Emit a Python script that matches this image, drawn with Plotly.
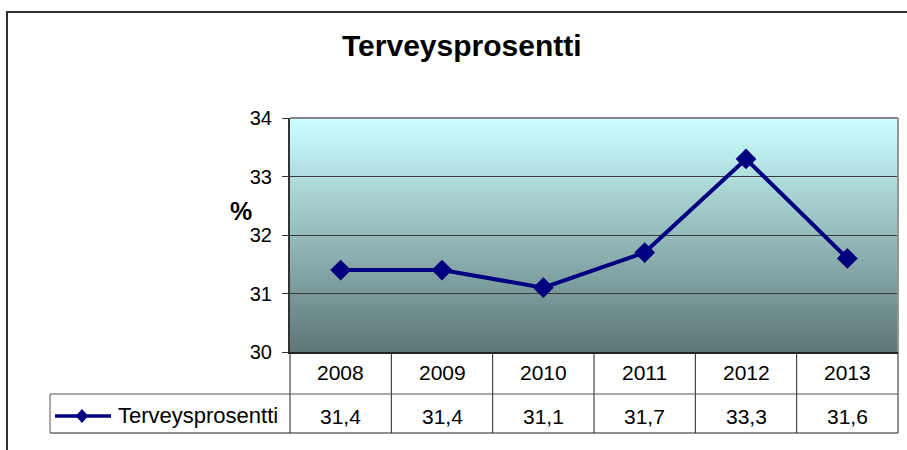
import plotly.graph_objects as go

# ---- data ----
years = ["2008", "2009", "2010", "2011", "2012", "2013"]
values = [31.4, 31.4, 31.1, 31.7, 33.3, 31.6]
value_labels = ["31,4", "31,4", "31,1", "31,7", "33,3", "31,6"]
y_ticks = [30, 31, 32, 33, 34]
series_name = "Terveysprosentti"
chart_title = "Terveysprosentti"

W, H = 907, 450
L, R, T, B = 290, 898, 118, 352  # plot area in pixels


def px(x):
    return (x - L) / (R - L)


def py(y):
    return (B - y) / (B - T)


FONT = "Liberation Sans, Arial, sans-serif"
NAVY = "#000080"

fig = go.Figure()
fig.add_trace(go.Scatter(
    x=years, y=values, mode="lines+markers", name=series_name,
    line=dict(color=NAVY, width=4),
    marker=dict(symbol="diamond", size=16, color=NAVY),
    showlegend=False, cliponaxis=False,
))

shapes = []
# gradient background of plot area
N = 117
top = (204, 255, 255)
bot = (94, 119, 119)
for i in range(N):
    t = i / (N - 1)
    c = tuple(round(bot[k] + (top[k] - bot[k]) * t) for k in range(3))
    shapes.append(dict(type="rect", xref="paper", yref="paper",
                       x0=0, x1=1, y0=i / N, y1=(i + 1) / N + 0.002,
                       fillcolor="rgb(%d,%d,%d)" % c, line=dict(width=0),
                       layer="below"))

# plot area top / right border
shapes.append(dict(type="line", xref="paper", yref="paper", x0=0, x1=1, y0=1, y1=1,
                   line=dict(color="#858585", width=2)))
shapes.append(dict(type="line", xref="paper", yref="paper", x0=1, x1=1, y0=0, y1=1,
                   line=dict(color="#959595", width=2)))

# outer chart border
shapes.append(dict(type="rect", xref="paper", yref="paper",
                   x0=px(7), x1=px(930), y0=py(12), y1=py(480),
                   line=dict(color="#303030", width=2), fillcolor="rgba(0,0,0,0)"))

# data table lines
tcol = "#222222"
row1, row2, row3 = 352, 394, 433
col_edges = [L + (R - L) * i / 6 for i in range(7)]
for xe in col_edges:
    shapes.append(dict(type="line", xref="paper", yref="paper",
                       x0=px(xe), x1=px(xe), y0=py(row1), y1=py(row3),
                       line=dict(color=tcol, width=1)))
for yy in (row2, row3):
    shapes.append(dict(type="line", xref="paper", yref="paper",
                       x0=px(50), x1=1, y0=py(yy), y1=py(yy),
                       line=dict(color=tcol if yy == row3 else "#555555", width=1)))
shapes.append(dict(type="line", xref="paper", yref="paper",
                   x0=px(50), x1=px(50), y0=py(row2), y1=py(row3),
                   line=dict(color="#555555", width=1)))
# legend key in table
ky = 416
shapes.append(dict(type="line", xref="paper", yref="paper",
                   x0=px(55), x1=px(111), y0=py(ky), y1=py(ky),
                   line=dict(color=NAVY, width=3.5)))
cx, hw, hh = 82, 5.5, 6.5
shapes.append(dict(type="path", xref="paper", yref="paper",
                   path="M %f,%f L %f,%f L %f,%f L %f,%f Z" % (
                       px(cx - hw), py(ky), px(cx), py(ky - hh),
                       px(cx + hw), py(ky), px(cx), py(ky + hh)),
                   fillcolor=NAVY, line=dict(color=NAVY, width=1)))

annotations = []
annotations.append(dict(text="<b>" + chart_title + "</b>", xref="paper", yref="paper",
                        x=px(462), y=py(45), showarrow=False,
                        font=dict(family=FONT, size=30, color="#000000"),
                        xanchor="center", yanchor="middle"))
annotations.append(dict(text="<b>%</b>", xref="paper", yref="paper",
                        x=px(241), y=py(211), showarrow=False,
                        font=dict(family=FONT, size=25, color="#000000"),
                        xanchor="center", yanchor="middle"))
for i, (yr, vl) in enumerate(zip(years, value_labels)):
    annotations.append(dict(text=yr, xref="x", yref="paper", x=i, y=py(372),
                            showarrow=False, font=dict(family=FONT, size=21, color="#000"),
                            xanchor="center", yanchor="middle"))
    annotations.append(dict(text=vl, xref="x", yref="paper", x=i, y=py(416),
                            showarrow=False, font=dict(family=FONT, size=21, color="#000"),
                            xanchor="center", yanchor="middle"))
annotations.append(dict(text=series_name, xref="paper", yref="paper", x=px(116), y=py(415),
                        showarrow=False, font=dict(family=FONT, size=22, color="#000"),
                        xanchor="left", yanchor="middle"))

fig.update_layout(
    width=W, height=H,
    margin=dict(l=L, r=W - R, t=T, b=H - B, pad=0),
    paper_bgcolor="white", plot_bgcolor="#9fbdbd",
    shapes=shapes, annotations=annotations,
    font=dict(family=FONT, color="#000"),
    xaxis=dict(type="category", range=[-0.5, 5.5], showticklabels=False,
               showgrid=False, zeroline=False, showline=True,
               linecolor="#222222", linewidth=2, ticks=""),
    yaxis=dict(range=[30, 34], tickvals=y_ticks, ticks="outside", ticklen=6,
               tickcolor="#333333", tickwidth=1,
               showline=True, linecolor="#333333", linewidth=2,
               showgrid=True, gridcolor="#3a3a3a", gridwidth=1, zeroline=False,
               ticklabelstandoff=6,
               tickfont=dict(family=FONT, size=20, color="#000")),
    showlegend=False,
)

fig.write_html("out.html", config={"displayModeBar": False},
               post_script="document.body.style.margin='0';document.body.style.padding='0';")
